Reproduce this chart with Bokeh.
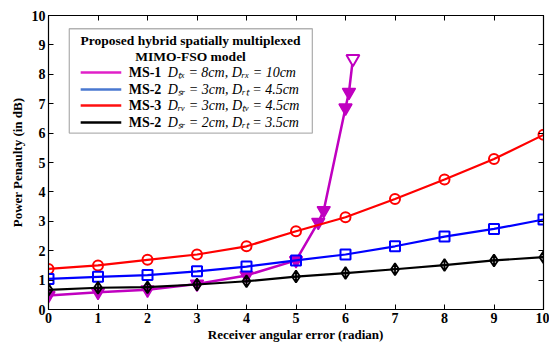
from bokeh.plotting import figure
from bokeh.models import Range1d, LinearAxis, FixedTicker, BoxAnnotation
from bokeh.core.properties import value
from bokeh.embed import file_html
from bokeh.resources import INLINE

# Receiver angular error (radian)
x_err = [0, 1, 2, 3, 4, 5, 6, 7, 8, 9, 10]
# Power penalty (dB) per model setting
ms3_penalty = [1.38, 1.50, 1.69, 1.87, 2.15, 2.66, 3.14, 3.76, 4.42, 5.12, 5.94]
ms2a_penalty = [1.04, 1.11, 1.17, 1.30, 1.46, 1.67, 1.87, 2.15, 2.48, 2.74, 3.06]
ms2b_penalty = [0.67, 0.74, 0.76, 0.85, 0.96, 1.12, 1.24, 1.37, 1.51, 1.67, 1.78]
# MS-1 rises sharply past 5 radian
ms1_x = [0, 1, 2, 3, 4, 5, 5.45, 5.56, 6.0, 6.07, 6.15]
ms1_penalty = [0.48, 0.59, 0.67, 0.87, 1.16, 1.67, 2.97, 3.37, 6.86, 7.39, 8.53]

ticks = list(range(11))
title_lines = ["Proposed hybrid spatially multiplexed", "MIMO-FSO model"]
legend_names = ["MS-1", "MS-2", "MS-3", "MS-2"]
legend_params = ["D\u209c\u2093 = 8cm, D\u1d63\u2093 = 10cm",
                 "D\u209b\u1d63 = 3cm, D\u1d63\u209c = 4.5cm",
                 "D\u1d63\u1d65 = 3cm, D\u209c\u1d65 = 4.5cm",
                 "D\u209b\u1d63 = 2cm, D\u1d63\u209c = 3.5cm"]
legend_colors = ["#e020c8", "#4a78d0", "#ff1010", "#000000"]

SERIF = "Liberation Serif"
MAG = "#c000c0"

p = figure(width=549, height=344, output_backend="svg", toolbar_location=None,
           x_range=Range1d(0, 10), y_range=Range1d(0, 10),
           min_border_left=48, min_border_right=6, min_border_top=15, min_border_bottom=35)
p.background_fill_color = "white"
p.border_fill_color = "white"
p.outline_line_color = "black"
p.outline_line_width = 1.2
p.xgrid.visible = False
p.ygrid.visible = False

def style_axis(ax, show_labels=True):
    ax.ticker = FixedTicker(ticks=ticks)
    ax.major_tick_in = 5
    ax.major_tick_out = 0
    ax.minor_tick_line_color = None
    ax.axis_line_color = "black"
    ax.major_tick_line_color = "black"
    ax.major_label_text_font = SERIF
    ax.major_label_text_font_style = "bold"
    ax.major_label_text_font_size = "14px"
    ax.major_label_text_color = "black"
    ax.major_label_standoff = 3
    ax.axis_label_text_font = SERIF
    ax.axis_label_text_font_style = "bold"
    ax.axis_label_text_font_size = "13px"
    ax.axis_label_text_color = "black"
    ax.axis_label_standoff = 4
    if not show_labels:
        ax.major_label_overrides = {t: "" for t in ticks}
        ax.major_label_standoff = 0

p.xaxis.axis_label = "Receiver angular error (radian)"
p.yaxis.axis_label = "Power Penaulty (in dB)"
style_axis(p.xaxis[0])
style_axis(p.yaxis[0])
p.xaxis[0].axis_label_standoff = 1

right_ax = LinearAxis()
top_ax = LinearAxis()
style_axis(right_ax, False)
style_axis(top_ax, False)
p.add_layout(right_ax, "right")
p.add_layout(top_ax, "above")

# Legend box, drawn in data units beneath the glyphs
p.add_layout(BoxAnnotation(left=0.42, right=5.33, bottom=6.0, top=9.55,
                           fill_color="white", fill_alpha=1.0,
                           line_color="black", line_width=1.3, level="underlay"))

# Series
p.line(ms1_x, ms1_penalty, line_color=MAG, line_width=2.5)
p.scatter(ms1_x[:-1], ms1_penalty[:-1], marker="inverted_triangle", size=13,
          fill_color=MAG, line_color=MAG, line_width=1.5)
p.scatter(ms1_x[-1:], ms1_penalty[-1:], marker="inverted_triangle", size=13,
          fill_color="white", line_color=MAG, line_width=2)

p.line(x_err, ms3_penalty, line_color="#ff0000", line_width=2.2)
p.scatter(x_err, ms3_penalty, marker="circle", size=10, fill_color=None,
          line_color="#ff0000", line_width=2)

p.line(x_err, ms2a_penalty, line_color="#0000ff", line_width=2.2)
p.scatter(x_err, ms2a_penalty, marker="square", size=10, fill_color=None,
          line_color="#0000ff", line_width=2)

p.line(x_err, ms2b_penalty, line_color="black", line_width=2.2)
p.scatter(x_err, ms2b_penalty, marker="diamond_cross", size=12, fill_color=None,
          line_color="black", line_width=1.8)

# Legend contents
p.text(x=[2.87, 2.87], y=[9.15, 8.6], text=title_lines,
       text_font=value(SERIF), text_font_style="bold", text_font_size="13.5px",
       text_align="center", text_baseline="middle", text_color="black")

entry_y = [8.06, 7.48, 6.94, 6.36]
for yy, col in zip(entry_y, legend_colors):
    p.line([0.65, 1.47], [yy, yy], line_color=col, line_width=2.5)

p.text(x=[1.62] * 4, y=entry_y, text=legend_names,
       text_font=value(SERIF), text_font_style="bold", text_font_size="14px",
       text_align="left", text_baseline="middle", text_color="black")
p.text(x=[2.41] * 4, y=entry_y, text=legend_params,
       text_font=value(SERIF), text_font_style="italic", text_font_size="14px",
       text_align="left", text_baseline="middle", text_color="black")

open("out.html", "w").write(file_html(p, INLINE))
